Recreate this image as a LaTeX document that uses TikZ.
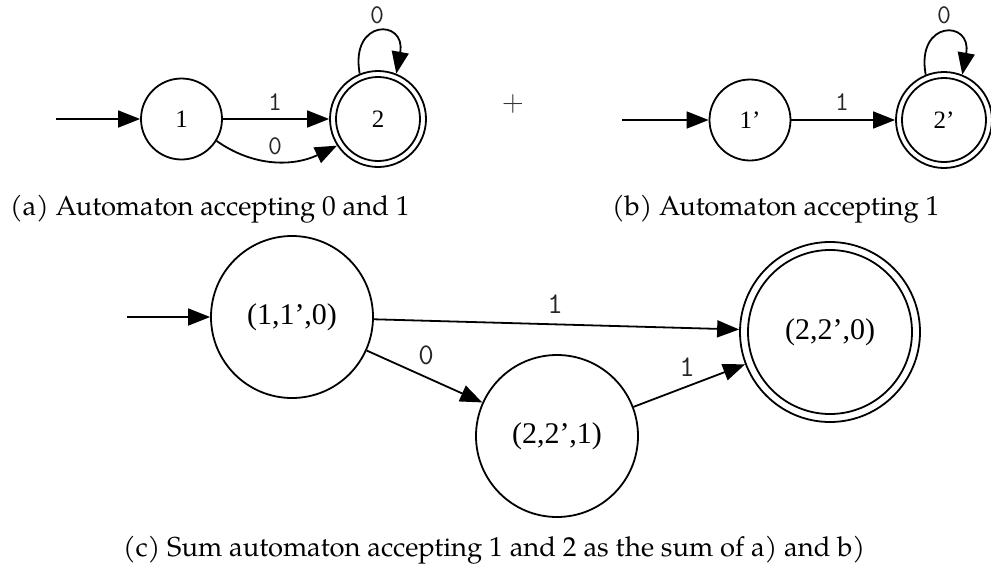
\documentclass[tikz,border=0pt]{standalone}
\usepackage{fontspec}
\setmainfont{Liberation Serif}
\newfontfamily\capf{TeX Gyre Pagella}
\usetikzlibrary{arrows.meta}
\begin{document}
\begin{tikzpicture}[x=1pt,y=1pt,
  arr/.style={line width=1.8pt,-{Triangle[length=22pt,width=17pt]}},
  st/.style={circle,draw,line width=1.8pt,inner sep=0pt},
  stS/.style={st,minimum size=81pt,font=\fontsize{25}{30}\selectfont},
  accS/.style={st,minimum size=96pt,font=\fontsize{25}{30}\selectfont,
    path picture={\draw[line width=1.8pt] (path picture bounding box.center) circle (42pt);}},
  stL/.style={st,minimum size=162pt,font=\fontsize{30}{36}\selectfont},
  accL/.style={st,minimum size=180pt,font=\fontsize{30}{36}\selectfont,
    path picture={\draw[line width=1.8pt] (path picture bounding box.center) circle (82pt);}},
  lblS/.style={font=\ttfamily\fontsize{27}{32}\selectfont,inner sep=0pt,text=black!85},
  lblL/.style={font=\ttfamily\fontsize{30}{36}\selectfont,inner sep=0pt,text=black!85},
  captext/.style={font=\capf\fontsize{27.4}{32}\selectfont,inner sep=0pt,anchor=base west}
]
\useasboundingbox (0,0) rectangle (991,-576);

% (a)
\coordinate (s1) at (56,-119);
\node[stS] (n1) at (181.5,-119) {1};
\node[accS] (n2) at (378,-119) {2};
\draw[arr] (s1) -- (n1);
\draw[arr] (n1) -- (n2) node[lblS] at (275,-102) {1};
\draw[arr] (n1.-32) .. controls (255,-168) and (295,-166) .. (n2.-147)
  node[lblS] at (275,-146) {0};
\draw[arr] (n2.112) .. controls +(-10,55) and +(10,55) .. (n2.68)
  node[lblS] at (377,-15) {0};

% plus
\node[font=\fontfamily{lmr}\fontsize{30}{36}\selectfont,inner sep=0pt,text=black!80] (plus) at (513,-104) {+};

% (b)
\coordinate (s2) at (622,-120);
\node[stS] (m1) at (750,-120) {1’};
\node[accS] (m2) at (944,-120) {2’};
\draw[arr] (s2) -- (m1);
\draw[arr] (m1) -- (m2) node[lblS] at (842,-102) {1};
\draw[arr] (m2.112) .. controls +(-10,55) and +(10,55) .. (m2.68)
  node[lblS] at (944,-15) {0};

% captions
\node[captext] (capa) at (10,-215) {(a) Automaton accepting 0 and 1};
\node[captext] (capb) at (612,-215) {(b) Automaton accepting 1};

% (c)
\coordinate (s3) at (127,-317);
\node[stL] (A) at (292,-317) {(1,1’,0)};
\node[stL] (B) at (557,-436) {(2,2’,1)};
\node[accL] (C) at (830,-332) {(2,2’,0)};
\draw[arr] (s3) -- (A);
\draw[arr] (A) -- (C) node[lblL] at (555,-304) {1};
\draw[arr] (A) -- (B) node[lblL] at (426,-355) {0};
\draw[arr] (B) -- (C) node[lblL] at (687,-367) {1};

\node[captext] (capc) at (123,-556) {(c) Sum automaton accepting 1 and 2 as the sum of a) and b)};
\end{tikzpicture}
\end{document}
